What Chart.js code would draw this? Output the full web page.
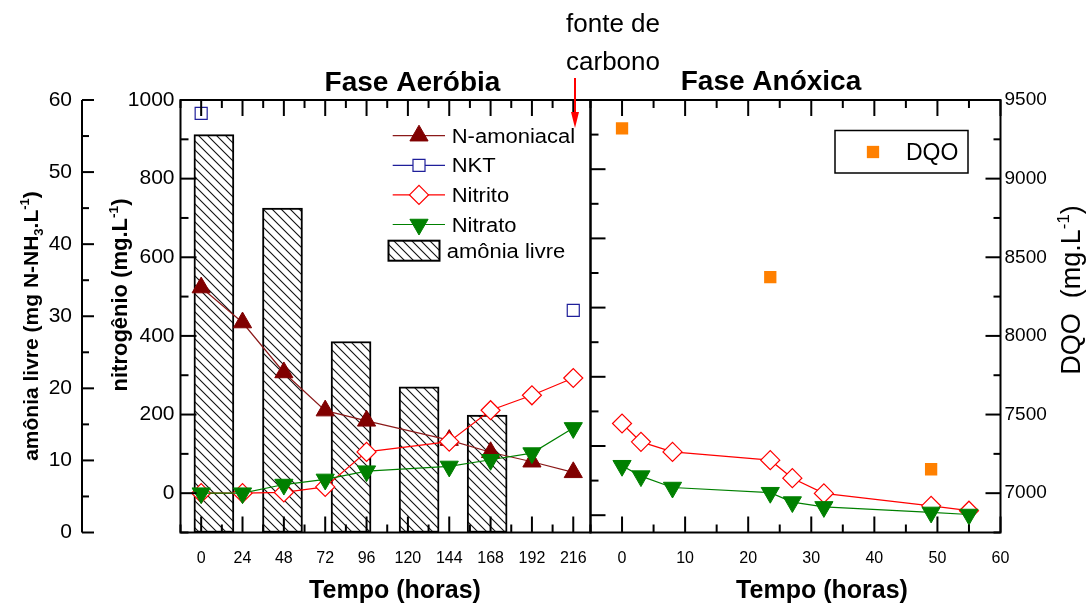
<!DOCTYPE html>
<html><head><meta charset="utf-8">
<script src="https://cdn.jsdelivr.net/npm/chart.js@4.4.1/dist/chart.umd.min.js"></script>
<style>
html,body{margin:0;padding:0;background:#fff;}
#wrap{position:relative;width:1089px;height:610px;overflow:hidden;}
canvas{position:absolute;left:0;top:0;}
</style></head>
<body><div id="wrap"><canvas id="cA" width="1089" height="610"></canvas><canvas id="cB" width="1089" height="610"></canvas></div>
<script>
// ---------------- data ----------------
const aerTimes = [0, 24, 48, 72, 96, 144, 168, 192, 216];
const nAmoniacal = [523, 434, 307, 210, 184, 135, 104, 80, 53];
const nitritoAer = [0, 0, 2, 16, 105, 131, 211, 249, 293];
const nitratoAer = [0, 0, 22, 35, 56, 68, 85, 102, 166];
const nktTimes = [0, 216];
const nkt = [966, 465];
const barTimes = [7.4, 47.2, 87, 126.5, 166];
const amoniaLivre = [55.2, 45.0, 26.5, 20.2, 16.3];
const carbonSourceTime = 217;

const anoxTimes = [0, 3, 8, 23.5, 27, 32, 49, 55];
const nitritoAnox = [265, 212, 183, 159, 107, 63, 27, 13];
const nitratoAnox = [143, 113, 80, 65, 38, 24, 8, 2];
const dqoTimes = [0, 23.5, 49];
const dqo = [9320, 8374, 7152];

const aerTickLabels = [0, 24, 48, 72, 96, 120, 144, 168, 192, 216];
const anoxTickLabels = [0, 10, 20, 30, 40, 50, 60];
const nitrogenTickLabels = [0, 200, 400, 600, 800, 1000];
const amoniaTickLabels = [0, 10, 20, 30, 40, 50, 60];
const dqoTickLabels = [7000, 7500, 8000, 8500, 9000, 9500];

// ---------------- helpers ----------------
const FONT = "'Liberation Sans', Arial, Helvetica, sans-serif";
function pts(xs, ys) { return xs.map((x, i) => ({x: x, y: ys[i]})); }
function isMult(v, m) { return Math.abs(v / m - Math.round(v / m)) < 1e-6; }
function labelCb(list) { return (v) => list.includes(v) ? String(v) : ''; }

function hatchPattern() {
  const n = 9;
  const pc = document.createElement('canvas');
  pc.width = n; pc.height = n;
  const g = pc.getContext('2d');
  g.fillStyle = '#fff'; g.fillRect(0, 0, n, n);
  g.strokeStyle = '#111'; g.lineWidth = 1.1;
  g.beginPath();
  g.moveTo(-1, -1); g.lineTo(n + 1, n + 1);
  g.moveTo(-1, n - 1); g.lineTo(1, n + 1);
  g.moveTo(n - 1, -1); g.lineTo(n + 1, 1);
  g.stroke();
  return document.getElementById('cA').getContext('2d').createPattern(pc, 'repeat');
}
const hatch = hatchPattern();

function drawRich(ctx, segs, x, y, size, weight, rot) {
  ctx.save();
  ctx.translate(x, y);
  if (rot) ctx.rotate(rot);
  const k = 0.62;
  let total = 0;
  const ws = segs.map(s => {
    ctx.font = weight + ' ' + (s.s ? size * k : size) + 'px ' + FONT;
    const w = ctx.measureText(s.t).width; total += w; return w;
  });
  let cx = -total / 2;
  ctx.textAlign = 'left'; ctx.textBaseline = 'alphabetic'; ctx.fillStyle = '#000';
  segs.forEach((s, i) => {
    ctx.font = weight + ' ' + (s.s ? size * k : size) + 'px ' + FONT;
    const dy = s.s === 'sub' ? size * 0.22 : (s.s === 'sup' ? -size * 0.42 : 0);
    ctx.fillText(s.t, cx, dy);
    cx += ws[i];
  });
  ctx.restore();
}

function drawText(ctx, t, x, y, size, weight, align, sx) {
  ctx.save();
  ctx.translate(x, y);
  if (sx) ctx.scale(sx, 1);
  ctx.font = weight + ' ' + size + 'px ' + FONT;
  ctx.fillStyle = '#000';
  ctx.textAlign = align || 'center';
  ctx.textBaseline = 'alphabetic';
  ctx.fillText(t, 0, 0);
  ctx.restore();
}

function drawMarker(ctx, ds, x, y) {
  ctx.save();
  ctx.fillStyle = ds.pointBackgroundColor;
  ctx.strokeStyle = ds.pointBorderColor;
  ctx.lineWidth = ds.pointBorderWidth;
  Chart.helpers.drawPoint(ctx, {pointStyle: ds.pointStyle, radius: ds.pointRadius, rotation: ds.pointRotation || 0, borderWidth: ds.pointBorderWidth}, x, y);
  ctx.restore();
}

function drawTicks(chart, specs) {
  const ctx = chart.ctx, ca = chart.chartArea;
  ctx.save();
  ctx.strokeStyle = '#000'; ctx.lineWidth = 2; ctx.lineCap = 'butt';
  specs.forEach(s => {
    const sc = chart.scales[s.id];
    sc.ticks.forEach(t => {
      const v = t.value;
      if (!isMult(v, s.every)) return;
      const p = sc.getPixelForValue(v);
      const len = isMult(v, s.major) ? s.majorLen : s.minorLen;
      ctx.beginPath();
      if (s.side === 'bottom') { ctx.moveTo(p, ca.bottom); ctx.lineTo(p, ca.bottom - len); }
      else if (s.side === 'top') { ctx.moveTo(p, ca.top); ctx.lineTo(p, ca.top + len); }
      else if (s.side === 'leftIn') { ctx.moveTo(s.x(chart), p); ctx.lineTo(s.x(chart) + len, p); }
      else if (s.side === 'rightIn') { ctx.moveTo(s.x(chart), p); ctx.lineTo(s.x(chart) - len, p); }
      ctx.stroke();
    });
  });
  ctx.restore();
}

function frame(chart) {
  const ctx = chart.ctx, ca = chart.chartArea;
  ctx.save(); ctx.strokeStyle = '#000'; ctx.lineWidth = 2;
  ctx.strokeRect(ca.left, ca.top, ca.right - ca.left, ca.bottom - ca.top);
  ctx.restore();
}

const tickFont = (size) => ({family: FONT, size: size});
const noGrid = {display: false, drawTicks: false};
const noBorder = {display: false};

// ---------------- chart A: aerobic phase ----------------
const dsA = [
  {type: 'line', label: 'N-amoniacal', data: pts(aerTimes, nAmoniacal), xAxisID: 'x', yAxisID: 'yN',
   borderColor: '#8b1a1a', borderWidth: 1.2, pointStyle: 'triangle', pointRadius: 10.5,
   pointBackgroundColor: '#800000', pointBorderColor: '#800000', pointBorderWidth: 1, order: 3},
  {type: 'line', label: 'NKT', data: pts(nktTimes, nkt), xAxisID: 'x', yAxisID: 'yN', showLine: false,
   borderColor: '#1f1f9a', borderWidth: 1.2, pointStyle: 'rect', pointRadius: 8.5,
   pointBackgroundColor: '#ffffff', pointBorderColor: '#1f1f9a', pointBorderWidth: 1.2, order: 4},
  {type: 'line', label: 'Nitrito', data: pts(aerTimes, nitritoAer), xAxisID: 'x', yAxisID: 'yN',
   borderColor: '#ff0000', borderWidth: 1.2, pointStyle: 'rectRot', pointRadius: 9.5,
   pointBackgroundColor: '#ffffff', pointBorderColor: '#ff0000', pointBorderWidth: 1.2, order: 2},
  {type: 'line', label: 'Nitrato', data: pts(aerTimes, nitratoAer), xAxisID: 'x', yAxisID: 'yN',
   borderColor: '#008000', borderWidth: 1.2, pointStyle: 'triangle', pointRotation: 180, pointRadius: 10.5,
   pointBackgroundColor: '#008000', pointBorderColor: '#008000', pointBorderWidth: 1, order: 1},
  {type: 'bar', label: 'amônia livre', data: pts(barTimes, amoniaLivre), xAxisID: 'x', yAxisID: 'yA',
   backgroundColor: hatch, borderColor: '#000', borderWidth: 2, borderSkipped: false, barThickness: 40, order: 5}
];

const pluginA = {
  id: 'decorA',
  afterDraw(chart) {
    const ctx = chart.ctx, ca = chart.chartArea;
    frame(chart);
    const yA = chart.scales.yA;
    ctx.save(); ctx.strokeStyle = '#000'; ctx.lineWidth = 2;
    ctx.beginPath(); ctx.moveTo(yA.right, ca.top); ctx.lineTo(yA.right, ca.bottom); ctx.stroke();
    ctx.restore();
    drawTicks(chart, [
      {id: 'x', side: 'bottom', every: 12, major: 24, majorLen: 16, minorLen: 8},
      {id: 'x', side: 'top', every: 12, major: 24, majorLen: 16, minorLen: 8},
      {id: 'yN', side: 'leftIn', x: c => c.chartArea.left, every: 100, major: 200, majorLen: 16, minorLen: 8},
      {id: 'yA', side: 'leftIn', x: c => c.scales.yA.right, every: 5, major: 10, majorLen: 12, minorLen: 7}
    ]);
    // titles
    drawText(ctx, 'Fase Aeróbia', 412.5, 91, 28, 'bold');
    drawText(ctx, 'Tempo (horas)', 395, 598, 25, 'bold');
    drawRich(ctx, [{t: 'amônia livre (mg N-NH'}, {t: '3', s: 'sub'}, {t: '.L'}, {t: '-1', s: 'sup'}, {t: ')'}], 38, 326, 21, 'bold', -Math.PI / 2);
    drawRich(ctx, [{t: 'nitrogênio (mg.L'}, {t: '-1', s: 'sup'}, {t: ')'}], 127, 295, 22, 'bold', -Math.PI / 2);
    // legend
    const order = ['N-amoniacal', 'NKT', 'Nitrito', 'Nitrato'];
    order.forEach((lab, i) => {
      const ds = chart.data.datasets.find(d => d.label === lab);
      const y = 135.7 + i * 29.6;
      ctx.save(); ctx.strokeStyle = ds.borderColor; ctx.lineWidth = 1.2;
      ctx.beginPath(); ctx.moveTo(392.7, y); ctx.lineTo(445, y); ctx.stroke(); ctx.restore();
      drawMarker(ctx, ds, 419, y);
      drawText(ctx, lab, 451.7, y + 7, 20, 'normal', 'left', 1.1);
    });
    const bds = chart.data.datasets.find(d => d.type === 'bar');
    ctx.save(); ctx.fillStyle = hatch; ctx.fillRect(388.5, 240.7, 51, 20);
    ctx.strokeStyle = '#000'; ctx.lineWidth = 2; ctx.strokeRect(388.5, 240.7, 51, 20); ctx.restore();
    drawText(ctx, bds.label, 446.7, 257.7, 20, 'normal', 'left', 1.1);
    // carbon source annotation
    const ax = chart.scales.x.getPixelForValue(carbonSourceTime);
    ctx.save(); ctx.strokeStyle = '#ff0000'; ctx.fillStyle = '#ff0000'; ctx.lineWidth = 2;
    ctx.beginPath(); ctx.moveTo(ax, 78); ctx.lineTo(ax, 116); ctx.stroke();
    ctx.beginPath(); ctx.moveTo(ax - 4, 112); ctx.lineTo(ax + 4, 112); ctx.lineTo(ax, 128); ctx.closePath(); ctx.fill();
    ctx.restore();
    drawText(ctx, 'fonte de', ax + 38, 31.5, 26, 'normal');
    drawText(ctx, 'carbono', ax + 38, 70, 26, 'normal');
  }
};

new Chart(document.getElementById('cA'), {
  type: 'line',
  data: {datasets: dsA},
  options: {
    responsive: false, animation: false, devicePixelRatio: 1, events: [],
    layout: {padding: {left: 0, top: 100, right: 498.5, bottom: 0}},
    elements: {line: {tension: 0}},
    plugins: {legend: {display: false}, tooltip: {enabled: false}},
    scales: {
      x: {type: 'linear', position: 'bottom', min: -12, max: 226, offset: false,
          grid: noGrid, border: noBorder,
          ticks: {stepSize: 12, includeBounds: false, autoSkip: false, maxRotation: 0, padding: 16, color: '#000', font: tickFont(16), callback: labelCb(aerTickLabels)},
          afterFit: s => { s.height = 77.5; }},
      yN: {type: 'linear', position: 'left', weight: 0, min: -100, max: 1000,
           grid: noGrid, border: noBorder,
           ticks: {stepSize: 100, includeBounds: false, autoSkip: false, padding: 6, color: '#000', font: tickFont(21), callback: labelCb(nitrogenTickLabels)},
           afterFit: s => { s.width = 98.5; }},
      yA: {type: 'linear', position: 'left', weight: 1, min: 0, max: 60,
           grid: noGrid, border: noBorder,
           ticks: {stepSize: 5, includeBounds: false, autoSkip: false, padding: 10, color: '#000', font: tickFont(21), callback: labelCb(amoniaTickLabels)},
           afterFit: s => { s.width = 82; }}
    }
  },
  plugins: [pluginA]
});

// ---------------- chart B: anoxic phase ----------------
const dsB = [
  {type: 'line', label: 'Nitrito', data: pts(anoxTimes, nitritoAnox), xAxisID: 'x', yAxisID: 'yR',
   borderColor: '#ff0000', borderWidth: 1.2, pointStyle: 'rectRot', pointRadius: 9.5,
   pointBackgroundColor: '#ffffff', pointBorderColor: '#ff0000', pointBorderWidth: 1.2, order: 2},
  {type: 'line', label: 'Nitrato', data: pts(anoxTimes, nitratoAnox), xAxisID: 'x', yAxisID: 'yR',
   borderColor: '#008000', borderWidth: 1.2, pointStyle: 'triangle', pointRotation: 180, pointRadius: 10.5,
   pointBackgroundColor: '#008000', pointBorderColor: '#008000', pointBorderWidth: 1, order: 1},
  {type: 'line', label: 'DQO', data: pts(dqoTimes, dqo), xAxisID: 'x', yAxisID: 'yD', showLine: false,
   borderColor: '#ff8000', pointStyle: 'rect', pointRadius: 8.7,
   pointBackgroundColor: '#ff8000', pointBorderColor: '#ff8000', pointBorderWidth: 0, order: 3}
];

const pluginB = {
  id: 'decorB',
  afterDraw(chart) {
    const ctx = chart.ctx;
    frame(chart);
    drawTicks(chart, [
      {id: 'x', side: 'bottom', every: 5, major: 10, majorLen: 16, minorLen: 8},
      {id: 'x', side: 'top', every: 5, major: 10, majorLen: 16, minorLen: 8},
      {id: 'yR', side: 'leftIn', x: c => c.chartArea.left, every: 100, major: 200, majorLen: 15, minorLen: 8},
      {id: 'yD', side: 'rightIn', x: c => c.chartArea.right, every: 250, major: 500, majorLen: 15, minorLen: 7}
    ]);
    drawText(ctx, 'Fase Anóxica', 771, 90, 28, 'bold');
    drawText(ctx, 'Tempo (horas)', 822, 598, 25, 'bold');
    drawRich(ctx, [{t: 'DQO  (mg.L'}, {t: '-1', s: 'sup'}, {t: ')'}], 1080, 290, 27, 'normal', -Math.PI / 2);
    // legend
    const ds = chart.data.datasets.find(d => d.label === 'DQO');
    ctx.save(); ctx.strokeStyle = '#000'; ctx.lineWidth = 1.5;
    ctx.strokeRect(835, 130.5, 133, 42.5); ctx.restore();
    drawMarker(ctx, ds, 873, 152);
    drawText(ctx, ds.label, 906, 160.3, 23, 'normal', 'left');
  }
};

new Chart(document.getElementById('cB'), {
  type: 'line',
  data: {datasets: dsB},
  options: {
    responsive: false, animation: false, devicePixelRatio: 1, events: [],
    layout: {padding: {left: 590.5, top: 100, right: 0, bottom: 0}},
    elements: {line: {tension: 0}},
    plugins: {legend: {display: false}, tooltip: {enabled: false}},
    scales: {
      x: {type: 'linear', position: 'bottom', min: -5, max: 60, offset: false,
          grid: noGrid, border: noBorder,
          ticks: {stepSize: 5, includeBounds: false, autoSkip: false, maxRotation: 0, padding: 16, color: '#000', font: tickFont(16), callback: labelCb(anoxTickLabels)},
          afterFit: s => { s.height = 77.5; }},
      yR: {type: 'linear', position: 'left', min: -50, max: 1200,
           grid: noGrid, border: noBorder,
           ticks: {stepSize: 100, includeBounds: false, display: false},
           afterFit: s => { s.width = 0; }},
      yD: {type: 'linear', position: 'right', min: 6750, max: 9500,
           grid: noGrid, border: noBorder,
           ticks: {stepSize: 250, includeBounds: false, autoSkip: false, padding: 4, color: '#000', font: tickFont(19), callback: labelCb(dqoTickLabels)},
           afterFit: s => { s.width = 88.5; }}
    }
  },
  plugins: [pluginB]
});
</script>
</body></html>
